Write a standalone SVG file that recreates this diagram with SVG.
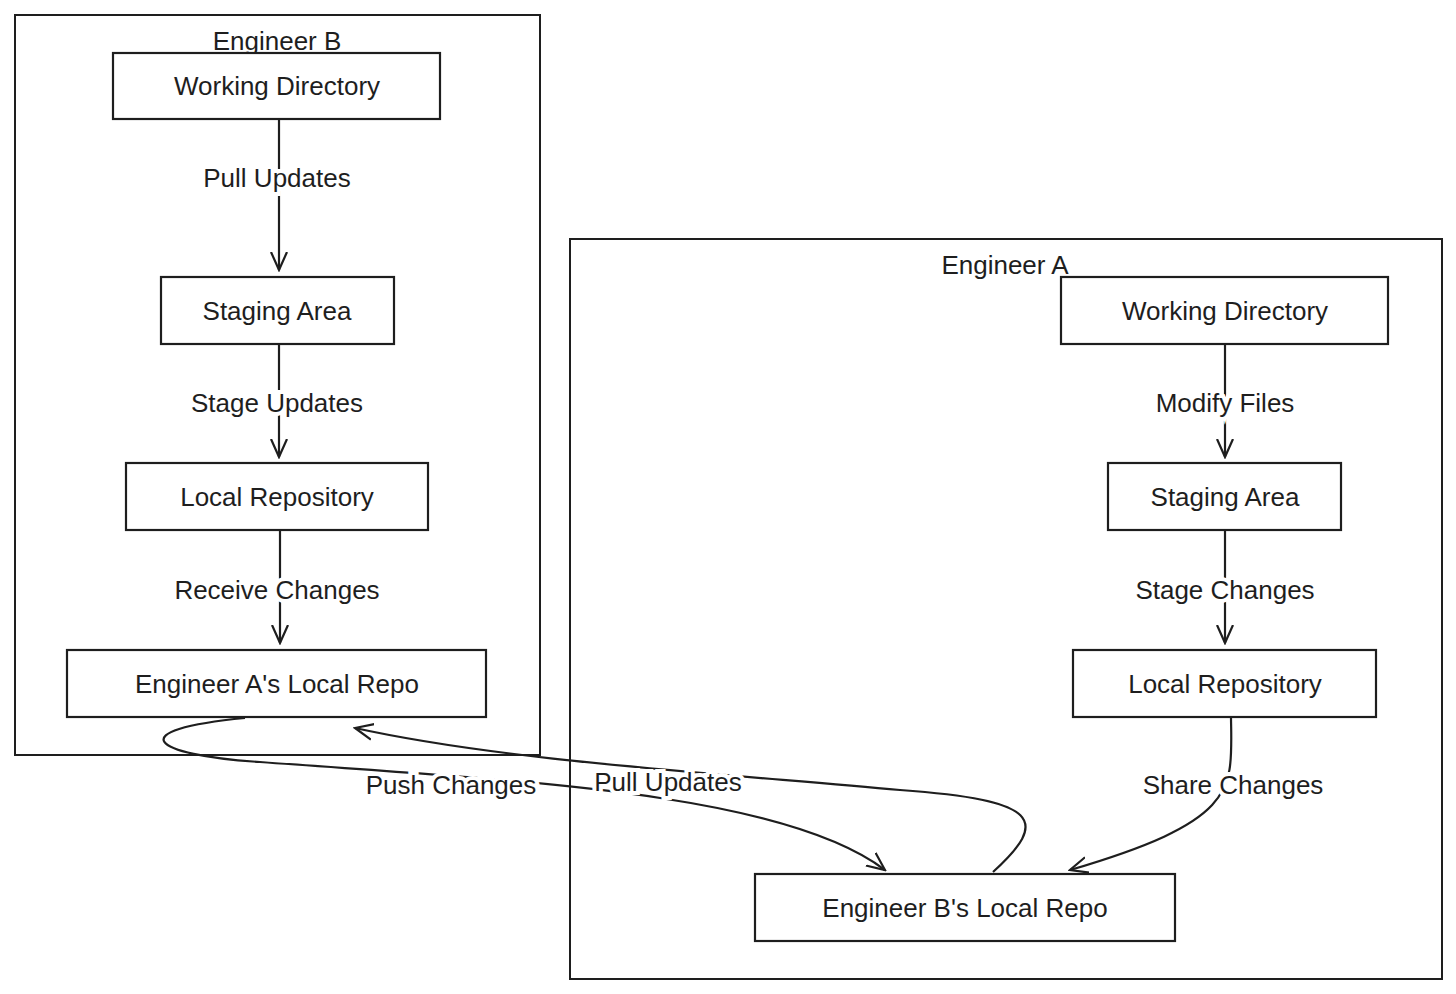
<svg xmlns="http://www.w3.org/2000/svg" width="1456" height="994" viewBox="0 0 1456 994">
<style>
.box{fill:#fff;stroke:#1e1e1e;stroke-width:2.2}
.cont{fill:none;stroke:#1e1e1e;stroke-width:2}
text{font-family:"Liberation Sans",Arial,sans-serif;font-size:26px;fill:#1e1e1e;text-anchor:middle;dominant-baseline:central}
.lbl{paint-order:stroke;stroke:#fff;stroke-width:8px}
.e{fill:none;stroke:#1e1e1e;stroke-width:2.2;marker-end:url(#a)}
</style>
<defs><marker id="a" viewBox="0 0 20 20" refX="18" refY="10" markerWidth="20" markerHeight="20" markerUnits="userSpaceOnUse" orient="auto"><path d="M0 2 L18 10 L0 18" fill="none" stroke="#1e1e1e" stroke-width="2.2"/></marker></defs>
<rect width="1456" height="994" fill="#fff"/>
<g id="engB"><rect class="cont" x="15" y="15" width="525" height="740"/><text x="277" y="41">Engineer B</text></g>
<g id="engA"><rect class="cont" x="570" y="239" width="872" height="740"/><text x="1005" y="265">Engineer A</text></g>
<g id="connectors">
<path class="e" d="M279 120 V270"/>
<path class="e" d="M279 345 V457"/>
<path class="e" d="M280 531 V643"/>
<path class="e" d="M1225 345 V457"/>
<path class="e" d="M1225 531 V643"/>
<path class="e" d="M1231 718 C1232 790 1240 820 1070 870"/>
<path class="e" d="M245 718 C120 730 150 755 260 762 C500 780 780 790 885 870"/>
<path class="e" d="M993 872 C1050 820 1040 800 900 790 C700 772 500 760 355 728"/>
<text class="lbl" x="277" y="178">Pull Updates</text>
<text class="lbl" x="277" y="403">Stage Updates</text>
<text class="lbl" x="277" y="590">Receive Changes</text>
<text class="lbl" x="1225" y="403">Modify Files</text>
<text class="lbl" x="1225" y="590">Stage Changes</text>
<text class="lbl" x="1233" y="785">Share Changes</text>
<text class="lbl" x="451" y="785">Push Changes</text>
<text class="lbl" x="668" y="782">Pull Updates</text>
</g>
<g id="b_wd"><rect class="box" x="113" y="53" width="327" height="66"/><text x="277" y="86">Working Directory</text></g>
<g id="b_sa"><rect class="box" x="161" y="277" width="233" height="67"/><text x="277" y="311">Staging Area</text></g>
<g id="b_lr"><rect class="box" x="126" y="463" width="302" height="67"/><text x="277" y="497">Local Repository</text></g>
<g id="b_ea"><rect class="box" x="67" y="650" width="419" height="67"/><text x="277" y="684">Engineer A's Local Repo</text></g>
<g id="a_wd"><rect class="box" x="1061" y="277" width="327" height="67"/><text x="1225" y="311">Working Directory</text></g>
<g id="a_sa"><rect class="box" x="1108" y="463" width="233" height="67"/><text x="1225" y="497">Staging Area</text></g>
<g id="a_lr"><rect class="box" x="1073" y="650" width="303" height="67"/><text x="1225" y="684">Local Repository</text></g>
<g id="a_eb"><rect class="box" x="755" y="874" width="420" height="67"/><text x="965" y="908">Engineer B's Local Repo</text></g>
</svg>
